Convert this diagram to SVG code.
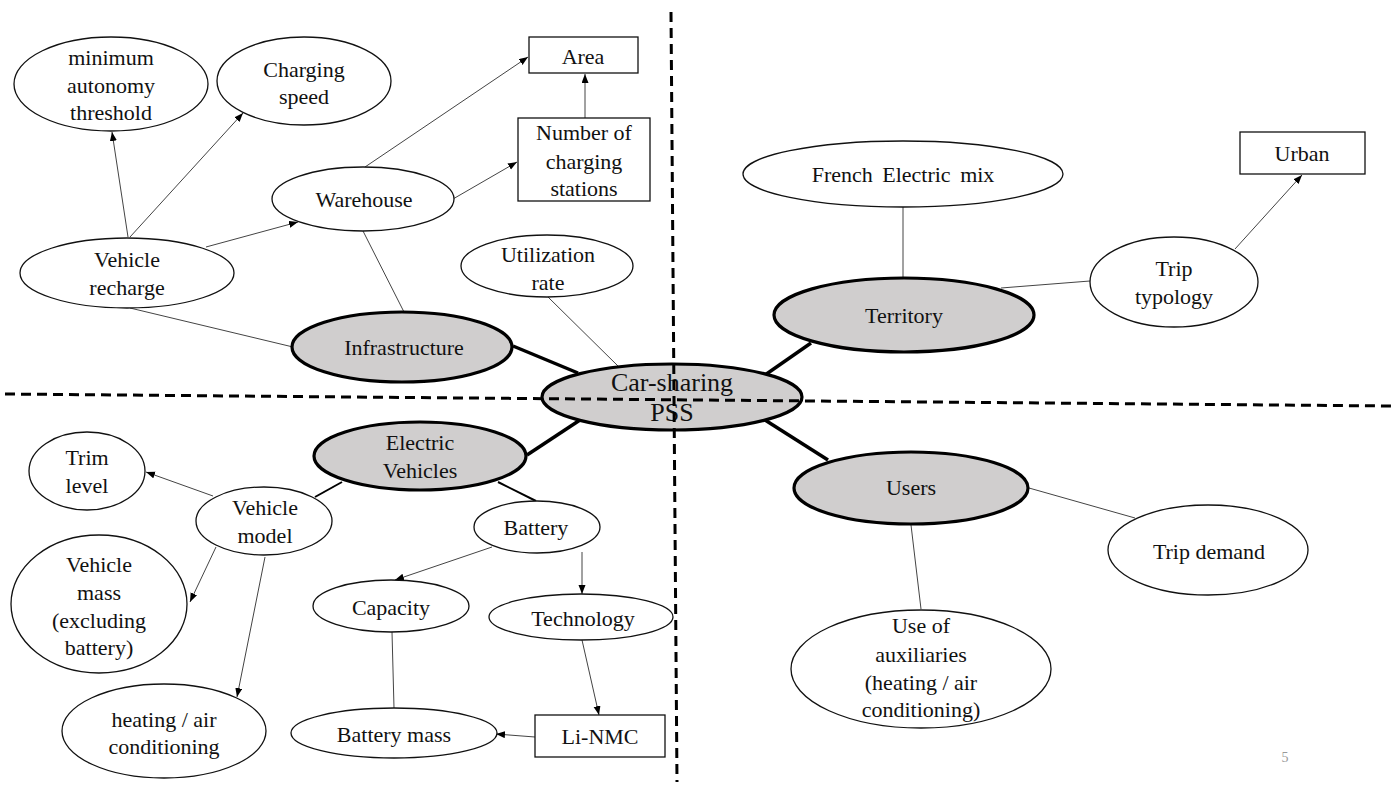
<svg xmlns="http://www.w3.org/2000/svg" width="1397" height="785" viewBox="0 0 1397 785">
<style>
text{font-family:"Liberation Serif","Times New Roman",serif;font-size:22px;fill:#111;text-anchor:middle}
.n{fill:#fff;stroke:#111;stroke-width:1.3}
.m{fill:#d0cece;stroke:#000;stroke-width:3.2}
.t{stroke:#444;stroke-width:1;fill:none}
.a{stroke:#444;stroke-width:1;fill:none;marker-end:url(#arr)}
.k{stroke:#000;stroke-width:3.5;fill:none}
.d{stroke:#000;stroke-width:3;stroke-dasharray:10 6;fill:none}
.big{font-size:26px}
</style>
<defs>
<marker id="arr" markerUnits="userSpaceOnUse" markerWidth="10" markerHeight="8" refX="9" refY="3.5" orient="auto">
<path d="M0,0 L9,3.5 L0,7 z" fill="#000"/>
</marker>
</defs>
<rect width="1397" height="785" fill="#fff"/>
<g id="connectors">
<line class="a" x1="128" y1="237" x2="112" y2="132"/>
<line class="a" x1="130" y1="237" x2="243" y2="113"/>
<line class="a" x1="206" y1="247" x2="298" y2="222"/>
<line class="t" x1="130" y1="308" x2="293" y2="347"/>
<line class="t" x1="363" y1="231" x2="404" y2="312"/>
<line class="a" x1="365" y1="167" x2="528" y2="57"/>
<line class="a" x1="453" y1="199" x2="517" y2="162"/>
<line class="a" x1="585" y1="118" x2="585" y2="74"/>
<line class="t" x1="548" y1="297" x2="619" y2="367"/>
<line class="k" x1="513" y1="346" x2="578" y2="373"/>
<line class="k" x1="765" y1="375" x2="811" y2="343"/>
<line class="t" x1="903" y1="207" x2="903" y2="278"/>
<line class="t" x1="1001" y1="288" x2="1090" y2="281"/>
<line class="a" x1="1235" y1="249" x2="1302" y2="175"/>
<line class="k" x1="765" y1="420" x2="828" y2="460"/>
<line class="t" x1="1029" y1="488" x2="1135" y2="518"/>
<line class="t" x1="911" y1="525" x2="921" y2="609"/>
<line class="k" x1="580" y1="420" x2="527" y2="455"/>
<line class="k" x1="342" y1="482" x2="315" y2="497" style="stroke-width:2"/>
<line class="k" x1="498" y1="482" x2="536" y2="501" style="stroke-width:2"/>
<line class="a" x1="213" y1="496" x2="146" y2="472"/>
<line class="a" x1="216" y1="547" x2="190" y2="602"/>
<line class="a" x1="265" y1="557" x2="237" y2="697"/>
<line class="a" x1="492" y1="547" x2="395" y2="580"/>
<line class="a" x1="582" y1="552" x2="582" y2="594"/>
<line class="t" x1="392" y1="632" x2="394" y2="708"/>
<line class="a" x1="582" y1="640" x2="599" y2="715"/>
<line class="a" x1="535" y1="737" x2="496" y2="734"/>
</g>
<g id="n-minimum"><ellipse class="n" cx="111" cy="84" rx="97" ry="47"/><text x="111" y="65">minimum</text><text x="111" y="93">autonomy</text><text x="111" y="120">threshold</text></g>
<g id="n-charging-speed"><ellipse class="n" cx="304" cy="81" rx="87" ry="44"/><text x="304" y="77">Charging</text><text x="304" y="104">speed</text></g>
<g id="n-area"><rect class="n" x="529" y="37" width="109" height="36"/><text x="583" y="64">Area</text></g>
<g id="n-stations"><rect class="n" x="518" y="118" width="132" height="83"/><text x="584" y="140">Number of</text><text x="584" y="169">charging</text><text x="584" y="196">stations</text></g>
<g id="n-warehouse"><ellipse class="n" cx="363" cy="199" rx="91" ry="32"/><text x="364" y="207">Warehouse</text></g>
<g id="n-recharge"><ellipse class="n" cx="127" cy="273" rx="107" ry="35"/><text x="127" y="267">Vehicle</text><text x="127" y="295">recharge</text></g>
<g id="n-utilization"><ellipse class="n" cx="547" cy="266" rx="86" ry="31"/><text x="548" y="262">Utilization</text><text x="548" y="290">rate</text></g>
<g id="n-infrastructure"><ellipse class="m" cx="402" cy="347" rx="110" ry="35"/><text x="404" y="355">Infrastructure</text></g>
<g id="n-french"><ellipse class="n" cx="903" cy="174" rx="160" ry="33"/><text x="903" y="182" style="word-spacing:4px">French Electric mix</text></g>
<g id="n-urban"><rect class="n" x="1240" y="132" width="125" height="42"/><text x="1302" y="161">Urban</text></g>
<g id="n-trip-typology"><ellipse class="n" cx="1174" cy="282" rx="84" ry="45"/><text x="1174" y="276">Trip</text><text x="1174" y="304">typology</text></g>
<g id="n-territory"><ellipse class="m" cx="904" cy="315" rx="130" ry="37"/><text x="904" y="323">Territory</text></g>
<g id="n-users"><ellipse class="m" cx="911" cy="488" rx="117" ry="36"/><text x="911" y="495">Users</text></g>
<g id="n-trip-demand"><ellipse class="n" cx="1208" cy="550" rx="100" ry="45"/><text x="1209" y="559">Trip demand</text></g>
<g id="n-auxiliaries"><ellipse class="n" cx="921" cy="669" rx="130" ry="59"/><text x="921" y="633">Use of</text><text x="921" y="662">auxiliaries</text><text x="921" y="690">(heating / air</text><text x="921" y="717">conditioning)</text></g>
<g id="n-ev"><ellipse class="m" cx="420" cy="456" rx="106" ry="34"/><text x="420" y="450">Electric</text><text x="420" y="478">Vehicles</text></g>
<g id="n-trim"><ellipse class="n" cx="87" cy="471" rx="58" ry="39"/><text x="87" y="465">Trim</text><text x="87" y="493">level</text></g>
<g id="n-vehicle-model"><ellipse class="n" cx="264" cy="521" rx="68" ry="34"/><text x="265" y="515">Vehicle</text><text x="265" y="543">model</text></g>
<g id="n-vehicle-mass"><ellipse class="n" cx="99" cy="604" rx="88" ry="69"/><text x="99" y="572">Vehicle</text><text x="99" y="600">mass</text><text x="99" y="628">(excluding</text><text x="99" y="655">battery)</text></g>
<g id="n-heating"><ellipse class="n" cx="164" cy="731" rx="102" ry="47"/><text x="164" y="727">heating / air</text><text x="164" y="754">conditioning</text></g>
<g id="n-battery"><ellipse class="n" cx="537" cy="527" rx="63" ry="26"/><text x="536" y="535">Battery</text></g>
<g id="n-capacity"><ellipse class="n" cx="391" cy="606" rx="78" ry="26"/><text x="391" y="615">Capacity</text></g>
<g id="n-technology"><ellipse class="n" cx="581" cy="617" rx="92" ry="23"/><text x="583" y="626">Technology</text></g>
<g id="n-battery-mass"><ellipse class="n" cx="394" cy="733" rx="103" ry="25"/><text x="394" y="742">Battery mass</text></g>
<g id="n-linmc"><rect class="n" x="535" y="715" width="130" height="42"/><text x="600" y="744">Li-NMC</text></g>
<g id="n-carsharing"><ellipse class="m" cx="672" cy="397" rx="130" ry="33"/><text class="big" x="672" y="391">Car-sharing</text><text class="big" x="672" y="421">PSS</text></g>
<g id="dividers">
<line class="d" x1="5" y1="394" x2="1392" y2="406"/>
<line class="d" x1="671" y1="12" x2="677" y2="782"/>
</g>
<text x="1285" y="762" style="font-size:14px;fill:#999">5</text>
</svg>
